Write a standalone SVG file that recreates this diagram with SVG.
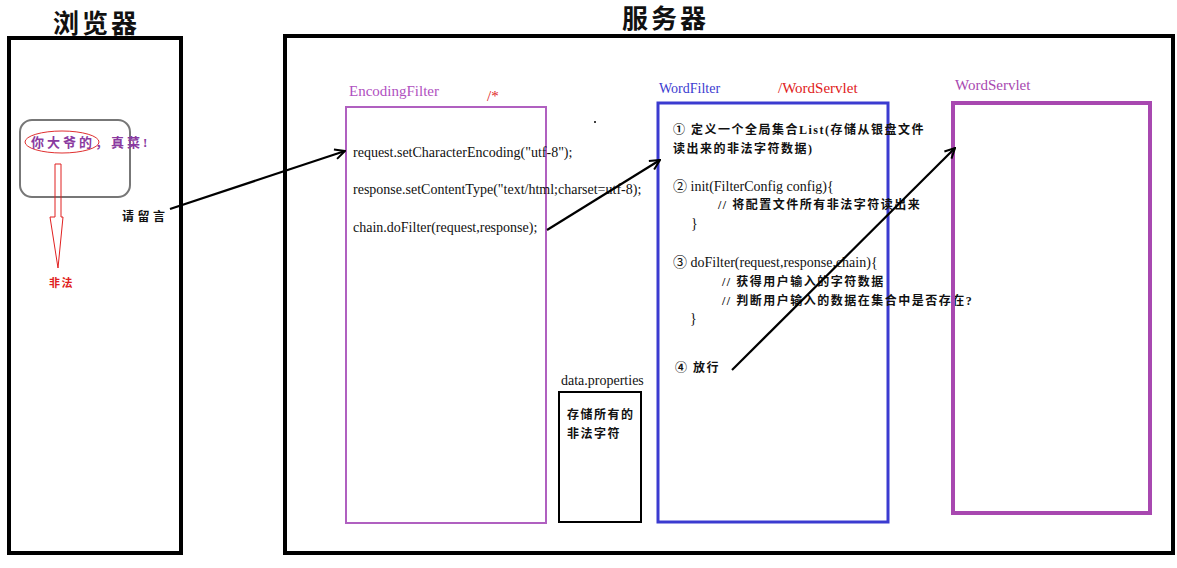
<svg xmlns="http://www.w3.org/2000/svg" width="1177" height="568" viewBox="0 0 1177 568">
<defs>
<style>
.t{font-family:"Liberation Serif","Noto Sans CJK SC",serif;font-size:14px;fill:#111}
.cn{font-family:"Liberation Serif","Noto Sans CJK SC",serif;font-size:12px;fill:#111;font-weight:bold;letter-spacing:1.5px}
.title{font-family:"Noto Sans CJK SC",sans-serif;font-size:26px;font-weight:bold;fill:#111;letter-spacing:3px}
.lbl{font-family:"Liberation Serif","Noto Sans CJK SC",serif;font-size:15px}
.big{fill:none;stroke:#000;stroke-width:4}
.conn{fill:none;stroke:#000;stroke-width:2.2}
</style>
<marker id="ah" viewBox="0 0 12 12" refX="11" refY="6" markerWidth="12" markerHeight="12" markerUnits="userSpaceOnUse" orient="auto">
<path d="M1,1 L11,6 L1,11" fill="none" stroke="#000" stroke-width="2"/>
</marker>
</defs>
<rect width="1177" height="568" fill="#fff"/>

<g id="browser">
<text class="title" x="53" y="33">浏览器</text>
<rect class="big" x="9" y="38" width="172" height="515"/>
<rect x="20" y="120" width="110" height="77" rx="12" fill="none" stroke="#777" stroke-width="2"/>
<ellipse cx="62" cy="142" rx="37" ry="11" fill="none" stroke="#e03030" stroke-width="1"/>
<text class="cn" x="31" y="147" style="fill:#8a3aa0;font-size:13px;letter-spacing:3px">你大爷的，真菜!</text>
<path d="M55,164 H61 V217 H63 L58,268 L50,217 H55 Z" fill="none" stroke="#e02020" stroke-width="1"/>
<text class="cn" x="49" y="287" style="fill:#e02020;font-size:11px">非法</text>
<text class="cn" x="122" y="221" style="letter-spacing:3.5px">请留言</text>
</g>

<g id="server">
<text class="title" x="622" y="28">服务器</text>
<rect class="big" x="285" y="36" width="888" height="517"/>
</g>

<g id="encodingfilter">
<text class="lbl" x="349" y="96" fill="#b050c0">EncodingFilter</text>
<text class="lbl" x="487" y="101" fill="#e02020">/*</text>
<rect x="346" y="107" width="200" height="416" fill="none" stroke="#b060c0" stroke-width="2"/>
<text class="t" x="353" y="157">request.setCharacterEncoding("utf-8");</text>
<text class="t" x="353" y="194">response.setContentType("text/html;charset=utf-8);</text>
<text class="t" x="353" y="232">chain.doFilter(request,response);</text>
</g>

<circle cx="595" cy="122" r="1" fill="#000"/>

<g id="dataproperties">
<text class="t" x="561" y="385">data.properties</text>
<rect x="559" y="392" width="82" height="130" fill="none" stroke="#000" stroke-width="2"/>
<text class="cn" x="567" y="419">存储所有的</text>
<text class="cn" x="567" y="438">非法字符</text>
</g>

<g id="wordfilter">
<text class="lbl" x="659" y="93" fill="#3b3bd0" style="font-size:14px">WordFilter</text>
<text class="lbl" x="778" y="93" fill="#e02020">/WordServlet</text>
<rect x="658" y="103" width="230" height="419" fill="none" stroke="#3b3bd0" stroke-width="3"/>
<text class="cn" x="673" y="134">① 定义一个全局集合List(存储从银盘文件</text>
<text class="cn" x="673" y="153">读出来的非法字符数据)</text>
<text class="t" x="673" y="191">② init(FilterConfig config){</text>
<text class="cn" x="718" y="209">// 将配置文件所有非法字符读出来</text>
<text class="t" x="691" y="228">}</text>
<text class="t" x="673" y="267">③ doFilter(request,response,chain){</text>
<text class="cn" x="722" y="286">// 获得用户输入的字符数据</text>
<text class="cn" x="722" y="305">// 判断用户输入的数据在集合中是否存在?</text>
<text class="t" x="690" y="323">}</text>
<text class="cn" x="675" y="372">④ 放行</text>
</g>

<g id="wordservlet">
<text class="lbl" x="955" y="90" fill="#a848b0">WordServlet</text>
<rect x="953" y="103" width="197" height="410" fill="none" stroke="#a848b0" stroke-width="4"/>
</g>

<g id="connectors">
<line class="conn" x1="170" y1="209" x2="345" y2="151" marker-end="url(#ah)"/>
<line class="conn" x1="547" y1="230" x2="660" y2="160" marker-end="url(#ah)"/>
<line class="conn" x1="732" y1="370" x2="955" y2="148" marker-end="url(#ah)"/>
</g>
</svg>
